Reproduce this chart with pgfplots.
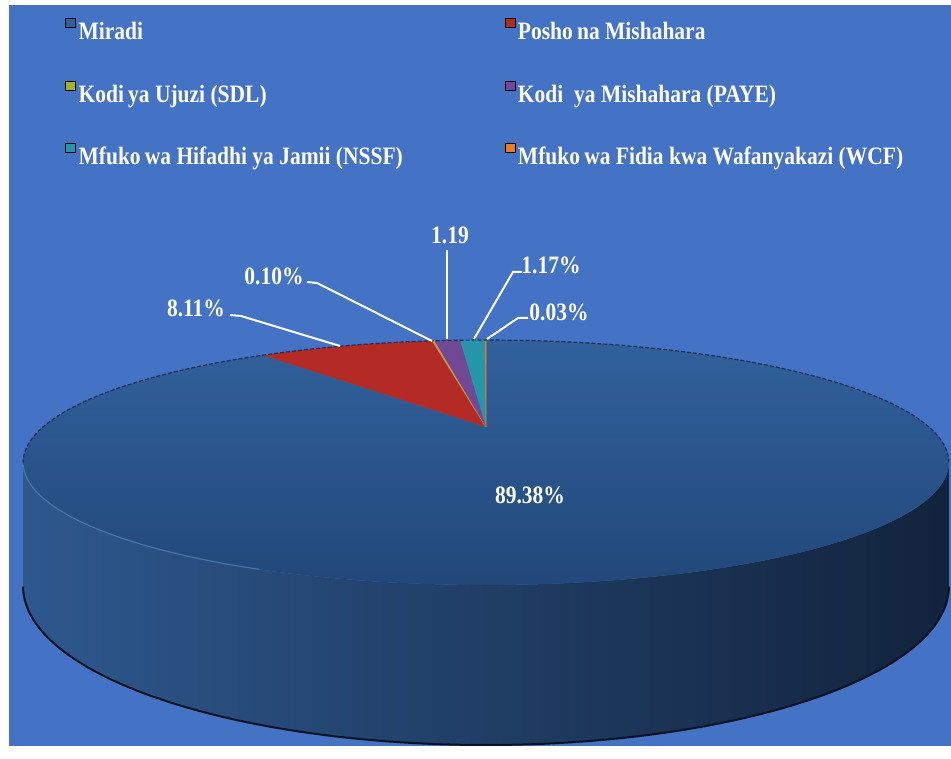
\documentclass[border=0pt]{standalone}
\usepackage{fontspec}
\setmainfont{Liberation Serif}[FakeStretch=0.86]
\usepackage{pgfplots}
\usepackage{pgfplotstable}
\pgfplotsset{compat=1.18}

\definecolor{bgblue}{RGB}{68,114,196}
\definecolor{miradiTop}{RGB}{49,97,156}
\definecolor{miradiBot}{RGB}{34,72,122}
\definecolor{wallL}{RGB}{46,88,142}
\definecolor{wallM}{RGB}{32,62,106}
\definecolor{wallR}{RGB}{18,35,60}
\definecolor{posho}{RGB}{180,42,36}
\definecolor{sdl}{RGB}{160,178,45}
\definecolor{sdlpie}{RGB}{200,150,70}
\definecolor{paye}{RGB}{112,72,150}
\definecolor{nssf}{RGB}{38,150,172}
\definecolor{wcf}{RGB}{232,126,34}

% shares in percent, in the order of the legend
\pgfplotstableread{
value
89.38
8.11
0.10
1.19
1.17
0.03
}\piedata

\pgfplotstablegetelem{0}{value}\of\piedata\pgfmathsetmacro\vA{\pgfplotsretval}
\pgfplotstablegetelem{1}{value}\of\piedata\pgfmathsetmacro\vB{\pgfplotsretval}
\pgfplotstablegetelem{2}{value}\of\piedata\pgfmathsetmacro\vC{\pgfplotsretval}
\pgfplotstablegetelem{3}{value}\of\piedata\pgfmathsetmacro\vD{\pgfplotsretval}
\pgfplotstablegetelem{4}{value}\of\piedata\pgfmathsetmacro\vE{\pgfplotsretval}
\pgfplotstablegetelem{5}{value}\of\piedata\pgfmathsetmacro\vF{\pgfplotsretval}
\pgfmathsetmacro\tot{\vA+\vB+\vC+\vD+\vE+\vF}
% slices run clockwise from 12 o'clock
\pgfmathsetmacro\sA{90}
\pgfmathsetmacro\sB{\sA-360*(\vA/\tot)}
\pgfmathsetmacro\sC{\sB-360*(\vB/\tot)}
\pgfmathsetmacro\sD{\sC-360*(\vC/\tot)}
\pgfmathsetmacro\sE{\sD-360*(\vD/\tot)}
\pgfmathsetmacro\sF{\sE-360*(\vE/\tot)}
\pgfmathsetmacro\sG{\sF-360*(\vF/\tot)}

\newcommand{\lbl}{\bfseries\fontsize{25bp}{30bp}\selectfont}
\newcommand{\st}{\rule[-6bp]{0pt}{24bp}}

\begin{document}
\begin{tikzpicture}
\fill[white] (0,0) rectangle (951bp,759bp);
\fill[bgblue] (9bp,13bp) rectangle (951bp,754bp);
\begin{axis}[
  scale only axis, width=951bp, height=759bp,
  xmin=0, xmax=951, ymin=0, ymax=759,
  hide axis, clip=false,
  declare function={
    Xt(\t)=486+443*cos(\t)/(1+0.29*sin(\t));
    Yt(\t)=332+112.2*sin(\t)/(1+0.29*sin(\t));
    Xb(\t)=Xt(\t);
    Yb(\t)=Yt(\t)-113.6/(1+0.29*sin(\t));
    WX(\s)=ifthenelse(\s<=1,Xt(196.86+146.28*\s),Xb(343.14-146.28*(\s-1)));
    WY(\s)=ifthenelse(\s<=1,Yt(196.86+146.28*\s),Yb(343.14-146.28*(\s-1)));
  },
  legend columns=2, legend cell align=left,
  legend style={at={(65/951,741/759)}, anchor=north west, draw=none, fill=none,
    inner sep=0pt, column sep=0pt, row sep=39.5bp, font=\lbl, text=white,
    nodes={inner sep=0pt}},
  legend image code/.code={\fill[#1] (0bp,4bp) rectangle (10bp,13bp); \path (13bp,0bp);},
]
% side wall
\addplot[draw=none, left color=wallL, middle color=wallM, right color=wallR,
  domain=0:2, samples=401, variable=\s, forget plot] ({WX(\s)},{WY(\s)}) -- cycle;
% top face
\addplot[draw=none, top color=miradiTop, bottom color=miradiBot,
  domain=\sB:\sA, samples=240, variable=\t, forget plot]
  ({Xt(\t)},{Yt(\t)}) -- (axis cs:486,332) -- cycle;
\addplot[draw=none, fill=posho, domain=\sC:\sB, samples=30, variable=\t, forget plot]
  ({Xt(\t)},{Yt(\t)}) -- (axis cs:486,332) -- cycle;
\addplot[draw=sdlpie, line width=0.8bp, fill=sdlpie, domain=\sD:\sC, samples=3, variable=\t, forget plot]
  ({Xt(\t)},{Yt(\t)}) -- (axis cs:486,332) -- cycle;
\addplot[draw=none, fill=paye, domain=\sE:\sD, samples=10, variable=\t, forget plot]
  ({Xt(\t)},{Yt(\t)}) -- (axis cs:486,332) -- cycle;
\addplot[draw=none, fill=nssf, domain=\sF:\sE, samples=10, variable=\t, forget plot]
  ({Xt(\t)},{Yt(\t)}) -- (axis cs:486,332) -- cycle;
\addplot[draw=wcf, line width=0.6bp, fill=wcf, domain=\sG:\sF, samples=3, variable=\t, forget plot]
  ({Xt(\t)},{Yt(\t)}) -- (axis cs:486,332) -- cycle;
% rims
\addplot[color={rgb,255:red,10;green,18;blue,35}, line width=2bp, domain=196.86:343.14,
  samples=120, variable=\t, forget plot] ({Xb(\t)},{Yb(\t)});
\addplot[color={rgb,255:red,95;green,140;blue,195}, line width=1.2bp, opacity=0.6,
  domain=198:248, samples=60, variable=\t, forget plot] ({Xt(\t)},{Yt(\t)});
\addplot[color={rgb,255:red,28;green,48;blue,88}, line width=1.2bp, dash pattern=on 4bp off 2bp,
  domain=-16.86:196.86, samples=160, variable=\t, forget plot] ({Xt(\t)},{Yt(\t)});

% legend
\addlegendimage{fill=miradiTop}
\addlegendentry{\makebox[426bp][l]{Miradi\st}}
\addlegendimage{fill=posho}
\addlegendentry{Posho\,na Mishahara\st}
\addlegendimage{fill=sdl}
\addlegendentry{\makebox[426bp][l]{Kodi\,ya Ujuzi (SDL)\st}}
\addlegendimage{fill=paye}
\addlegendentry{Kodi~ ya Mishahara (PAYE)\st}
\addlegendimage{fill=nssf}
\addlegendentry{\makebox[426bp][l]{Mfuko\,wa Hifadhi ya Jamii (NSSF)\st}}
\addlegendimage{fill=wcf}
\addlegendentry{Mfuko\,wa Fidia kwa Wafanyakazi (WCF)\st}

% data labels with leader lines
\draw[white, line width=2bp] (axis cs:230,444) -- (axis cs:241,443) -- (axis cs:340,413);
\draw[white, line width=2bp] (axis cs:307,477) -- (axis cs:317,476) -- (axis cs:432,418);
\draw[white, line width=2bp] (axis cs:447,509) -- (axis cs:447,420);
\draw[white, line width=2bp] (axis cs:522,487) -- (axis cs:513,487) -- (axis cs:474,420);
\draw[white, line width=2bp] (axis cs:528,441) -- (axis cs:518,441) -- (axis cs:487,420);
\node[text=white, font=\lbl, inner sep=0pt] at (axis cs:196,451) {8.11\%};
\node[text=white, font=\lbl, inner sep=0pt] at (axis cs:274,483) {0.10\%};
\node[text=white, font=\lbl, inner sep=0pt] at (axis cs:450,524) {1.19};
\node[text=white, font=\lbl, inner sep=0pt] at (axis cs:551,494) {1.17\%};
\node[text=white, font=\lbl, inner sep=0pt] at (axis cs:559,447) {0.03\%};
\node[text=white, font=\lbl, inner sep=0pt] at (axis cs:530,264) {89.38\%};
\end{axis}
\end{tikzpicture}
\end{document}
